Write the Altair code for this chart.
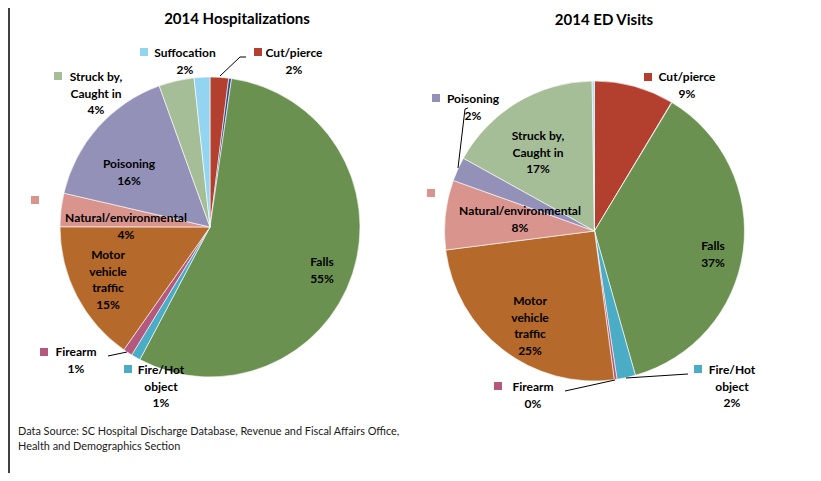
import altair as alt
import pandas as pd

# ---------------- data ----------------
categories = ["Cut/pierce", "Drowning", "Falls", "Fire/Hot object", "Firearm",
              "Motor vehicle traffic", "Natural/environmental", "Poisoning",
              "Struck by, Caught in", "Suffocation"]
colors = ["#B3402E", "#2F4A8C", "#6B9151", "#4BACC6", "#B4587E",
          "#B5692A", "#D9948D", "#9491B9", "#A6BE98", "#93D5F0"]
name_lines = [["Cut/pierce"], [], ["Falls"], ["Fire/Hot", "object"], ["Firearm"],
              ["Motor", "vehicle", "traffic"], ["Natural/environmental"], ["Poisoning"],
              ["Struck by,", "Caught in"], ["Suffocation"]]

hosp_values = [2.0, 0.3, 55.5, 1.0, 1.0, 15.3, 3.6, 15.9, 3.8, 1.7]
hosp_pct = ["2%", "", "55%", "1%", "1%", "15%", "4%", "16%", "4%", "2%"]

ed_values = [8.6, 0.05, 37.0, 2.0, 0.3, 25.1, 7.5, 2.6, 16.7, 0.2]
ed_pct = ["9%", "", "37%", "2%", "0%", "25%", "8%", "2%", "17%", ""]

titles = ["2014 Hospitalizations", "2014  ED Visits"]
source_lines = ["Data Source: SC Hospital Discharge Database, Revenue and Fiscal Affairs Office,",
                "Health and Demographics Section"]

# ---------------- layout (page pixels) ----------------
OFF = 8
W, H = 805, 465
R = 150
FONT = "Lato"
LINE_H = 16.6

pies = [
    dict(values=hosp_values, pct=hosp_pct, cx=210, cy=227, title_xy=(237, 19),
         labels={"Suffocation": (185, 53), "Cut/pierce": (294, 53),
                 "Struck by, Caught in": (96, 77), "Poisoning": (129, 164),
                 "Natural/environmental": (126, 218), "Motor vehicle traffic": (108, 255),
                 "Falls": (322, 262), "Firearm": (76, 352), "Fire/Hot object": (161, 370)},
         keys={"Suffocation": (144, 52), "Cut/pierce": (258, 52),
               "Struck by, Caught in": (58, 76), "Natural/environmental": (35, 200),
               "Firearm": (44, 352), "Fire/Hot object": (128, 369)},
         leaders=[(220, 76, 240, 57), (240, 57, 246, 57),
                  (108, 356, 127, 352)]),
    dict(values=ed_values, pct=ed_pct, cx=594.5, cy=231, title_xy=(604, 20),
         labels={"Cut/pierce": (687, 77), "Poisoning": (473, 99),
                 "Struck by, Caught in": (538, 136), "Natural/environmental": (520, 211),
                 "Falls": (713, 246), "Motor vehicle traffic": (530, 301),
                 "Firearm": (533, 387), "Fire/Hot object": (732, 370)},
         keys={"Cut/pierce": (648, 77), "Poisoning": (436, 98),
               "Natural/environmental": (431, 193), "Firearm": (498, 386),
               "Fire/Hot object": (698, 369)},
         leaders=[(458, 168, 465, 109), (465, 109, 468, 108),
                  (565, 391, 615, 380), (626, 378, 688, 374)]),
]

color_scale = alt.Scale(domain=categories, range=colors)

layers = []
for p in pies:
    df = pd.DataFrame({"cat": categories, "value": p["values"], "idx": list(range(len(categories)))})
    arcs = alt.Chart(df).mark_arc(outerRadius=R, stroke="white", strokeWidth=0.6).encode(
        theta=alt.Theta("value:Q", stack=True),
        order=alt.Order("idx:Q"),
        color=alt.Color("cat:N", scale=color_scale, legend=None),
        x=alt.value(p["cx"] - OFF),
        y=alt.value(p["cy"] - OFF),
    )
    layers.append(arcs)

    # label text rows
    rows = []
    for i, c in enumerate(categories):
        if c not in p["labels"]:
            continue
        lx, ly = p["labels"][c]
        lines = list(name_lines[i]) + ([p["pct"][i]] if p["pct"][i] else [])
        for j, t in enumerate(lines):
            rows.append({"t": t, "x": lx - OFF, "y": ly - OFF + j * LINE_H})
    ldf = pd.DataFrame(rows)
    layers.append(alt.Chart(ldf).mark_text(font=FONT, fontSize=12, fontWeight="bold",
                                           color="#000000", baseline="middle", align="center").encode(
        x=alt.X("x:Q", scale=None, axis=None), y=alt.Y("y:Q", scale=None, axis=None), text="t:N"))

    # legend keys
    kdf = pd.DataFrame([{"cat": c, "x": v[0] - OFF, "y": v[1] - OFF} for c, v in p["keys"].items()])
    layers.append(alt.Chart(kdf).mark_square(size=64, opacity=1).encode(
        x=alt.X("x:Q", scale=None, axis=None), y=alt.Y("y:Q", scale=None, axis=None),
        color=alt.Color("cat:N", scale=color_scale, legend=None)))

    # leader lines
    rdf = pd.DataFrame([{"x": a - OFF, "y": b - OFF, "x2": c - OFF, "y2": d - OFF}
                        for a, b, c, d in p["leaders"]])
    layers.append(alt.Chart(rdf).mark_rule(color="#000000", strokeWidth=1).encode(
        x=alt.X("x:Q", scale=None, axis=None), y=alt.Y("y:Q", scale=None, axis=None),
        x2="x2:Q", y2="y2:Q"))

# titles
tdf = pd.DataFrame([{"t": titles[k], "x": pies[k]["title_xy"][0] - OFF, "y": pies[k]["title_xy"][1] - OFF}
                    for k in range(2)])
layers.append(alt.Chart(tdf).mark_text(font=FONT, fontSize=15, fontWeight="bold", color="#000000",
                                       baseline="middle", align="center").encode(
    x=alt.X("x:Q", scale=None, axis=None), y=alt.Y("y:Q", scale=None, axis=None), text="t:N"))

# data source note
sdf = pd.DataFrame([{"t": source_lines[k], "x": 18 - OFF, "y": 432 - OFF + k * 15} for k in range(2)])
layers.append(alt.Chart(sdf).mark_text(font=FONT, fontSize=10.9, color="#1a1a1a",
                                       baseline="middle", align="left").encode(
    x=alt.X("x:Q", scale=None, axis=None), y=alt.Y("y:Q", scale=None, axis=None), text="t:N"))

# left border
layers.append(alt.Chart(pd.DataFrame({"a": [0]})).mark_rule(color="#404040", strokeWidth=2).encode(
    x=alt.value(1), y=alt.value(0), y2=alt.value(H)))

chart = alt.layer(*layers).properties(
    width=W, height=H, padding=0, background="white",
    autosize=alt.AutoSizeParams(type="none")
).configure_view(stroke=None)

chart.save("out.html", embed_options={"renderer": "svg", "actions": False})
